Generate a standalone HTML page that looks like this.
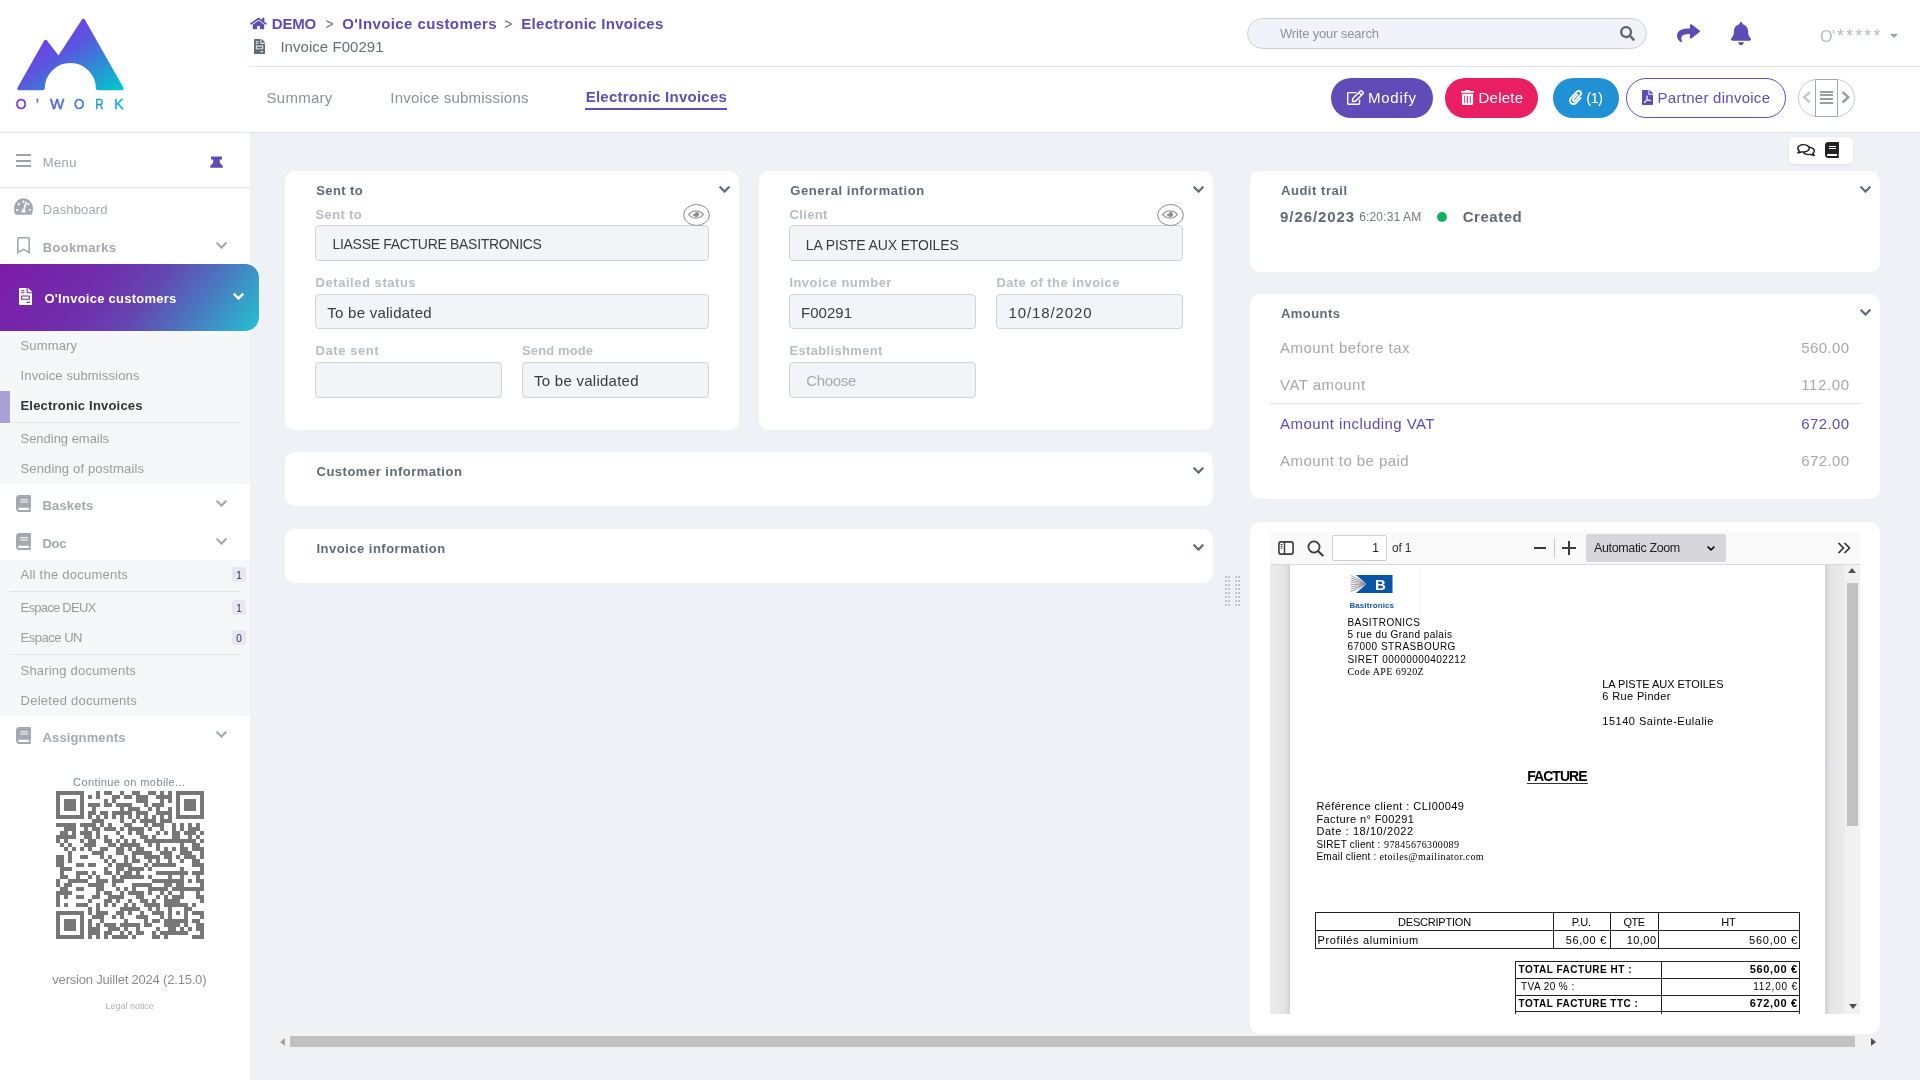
<!DOCTYPE html>
<html><head><meta charset="utf-8"><title>Electronic Invoices</title>
<style>
html,body{margin:0;padding:0;width:1920px;height:1080px;overflow:hidden;background:#fff;font-family:"Liberation Sans",sans-serif}
.a{position:absolute;display:block}
.t{position:absolute;white-space:nowrap}
</style></head><body>
<div id="root" style="position:absolute;left:0;top:0;width:1920px;height:1080px;will-change:transform">
<div class="a" style="left:250px;top:133px;width:1670px;height:947px;background:#eef1f6;"></div>
<div class="a" style="left:0px;top:0px;width:250px;height:1080px;background:#ffffff;"></div>
<svg class="a" style="left:0;top:0;width:140px;height:120px" viewBox="0 0 140 120">
<defs><linearGradient id="lg" x1="0" y1="0" x2="1" y2="1" gradientUnits="objectBoundingBox">
<stop offset="0" stop-color="#8d1ff6"/><stop offset="0.45" stop-color="#5a55de"/><stop offset="1" stop-color="#00c8cc"/></linearGradient>
<linearGradient id="lg2" x1="15" y1="0" x2="125" y2="0" gradientUnits="userSpaceOnUse">
<stop offset="0" stop-color="#7b2ee8"/><stop offset="0.5" stop-color="#3f78d6"/><stop offset="1" stop-color="#0ec0cf"/></linearGradient></defs>
<path d="M19 88.5 L45.6 41.5 L58.6 58.5 L83.4 20.5 L122 88.5 L97.7 88.5 A27.35 27.35 0 0 0 43 88.5 Z" fill="url(#lg)" stroke="url(#lg)" stroke-width="3.5" stroke-linejoin="round"/>
<g font-family="Liberation Sans" font-weight="400" font-size="14.2" fill="url(#lg2)" stroke="url(#lg2)" stroke-width="0.45">
<text x="15.8" y="109.3" textLength="10.8" lengthAdjust="spacingAndGlyphs">O</text>
<text x="36" y="109.3" textLength="2.9" lengthAdjust="spacingAndGlyphs">’</text>
<text x="49.9" y="109.3" textLength="14.3" lengthAdjust="spacingAndGlyphs">W</text>
<text x="73.9" y="109.3" textLength="10.4" lengthAdjust="spacingAndGlyphs">O</text>
<text x="95.3" y="109.3" textLength="8.4" lengthAdjust="spacingAndGlyphs">R</text>
<text x="114.1" y="109.3" textLength="9.7" lengthAdjust="spacingAndGlyphs">K</text>
</g></svg>
<div class="a" style="left:0px;top:132px;width:1920px;height:1px;background:#dfe3e8;"></div>
<div class="a" style="left:16px;top:154px;width:15px;height:2px;background:#9aa2ab;"></div>
<div class="a" style="left:16px;top:159.5px;width:15px;height:2px;background:#9aa2ab;"></div>
<div class="a" style="left:16px;top:165px;width:15px;height:2px;background:#9aa2ab;"></div>
<div id="t0" class="t" style="top:156px;font-size:13px;line-height:13px;color:#9ea4ab;font-weight:400;letter-spacing:0.423px;left:42.7px;">Menu</div>
<svg class="a" style="left:210px;top:156px;width:13px;height:12px" viewBox="0 0 13 12"><path d="M1 0.5h11v3h-2.2v3.2l3 3.3v1.8H0.2v-1.8l3-3.3V3.5H1z" fill="#5b4cb6"/></svg>
<div class="a" style="left:0px;top:187px;width:250px;height:1px;background:#dfe3e8;"></div>
<svg class="a" style="left:14px;top:197px;width:19px;height:19px;" viewBox="0 0 576 512" preserveAspectRatio="none"><path fill="#a2a9b0" d="M288 32C128.94 32 0 160.94 0 320c0 52.8 14.25 102.26 39.06 144.8 5.61 9.62 16.3 15.2 27.44 15.2h443c11.14 0 21.83-5.58 27.44-15.2C561.75 422.26 576 372.8 576 320c0-159.06-128.94-288-288-288zm0 64c14.71 0 26.58 10.13 30.32 23.65-1.11 2.26-2.64 4.23-3.45 6.67l-9.22 27.67c-5.13 3.49-10.97 6.01-17.64 6.01-17.67 0-32-14.33-32-32S270.33 96 288 96zM96 384c-17.67 0-32-14.33-32-32s14.33-32 32-32 32 14.33 32 32-14.33 32-32 32zm48-160c-17.67 0-32-14.33-32-32s14.33-32 32-32 32 14.33 32 32-14.33 32-32 32zm246.77-72.41l-61.33 184C343.13 347.33 352 364.54 352 384c0 11.72-3.38 22.55-8.88 32H232.88c-5.5-9.45-8.88-20.28-8.88-32 0-33.94 26.5-61.43 59.9-63.59l61.34-184.01c4.17-12.56 17.73-19.45 30.36-15.17 12.57 4.19 19.35 17.79 15.17 30.36zm14.66 57.2l15.52-46.55c3.47-1.29 7.13-2.23 11.05-2.23 17.67 0 32 14.33 32 32s-14.33 32-32 32c-11.38 0-20.89-6.27-26.57-15.22zM480 384c-17.67 0-32-14.33-32-32s14.33-32 32-32 32 14.33 32 32-14.33 32-32 32z"/></svg>
<div id="t1" class="t" style="top:203px;font-size:13px;line-height:13px;color:#a2a9b0;font-weight:400;letter-spacing:0.161px;left:42.7px;">Dashboard</div>
<svg class="a" style="left:17px;top:237px;width:13px;height:17px" viewBox="0 0 384 512" preserveAspectRatio="none"><path fill="#a2a9b0" d="M336 0H48C21.49 0 0 21.49 0 48v464l192-112 192 112V48c0-26.51-21.49-48-48-48zm0 428.43l-144-84-144 84V54a6 6 0 0 1 6-6h276c3.314 0 6 2.683 6 5.996V428.43z"/></svg>
<div id="t2" class="t" style="top:240.7px;font-size:13px;line-height:13px;color:#a2a9b0;font-weight:700;letter-spacing:0.311px;left:42.7px;">Bookmarks</div>
<svg class="a" style="left:216px;top:242px;width:11px;height:7px" viewBox="0 0 11 7"><polyline points="1.4000000000000001,1.4000000000000001 5.5,5.6000000000000005 9.6,1.4000000000000001" fill="none" stroke="#a2a9b0" stroke-width="2.2" stroke-linecap="square"/></svg>
<div class="a" style="left:0;top:264px;width:259px;height:67px;border-radius:0 14px 14px 0;background:linear-gradient(126deg,#7c1ba6 0%,#6f30ac 38%,#6445b1 55%,#4a78c0 75%,#22c3cf 100%)"></div>
<svg class="a" style="left:19px;top:288px;width:13px;height:17px" viewBox="0 0 384 512" preserveAspectRatio="none"><path fill="#ffffff" d="M288 256H96v64h192v-64zm89-151L279.1 7c-4.5-4.5-10.6-7-17-7H256v128h128v-6.1c0-6.3-2.5-12.4-7-16.9zm-153 31V0H24C10.7 0 0 10.7 0 24v464c0 13.3 10.7 24 24 24h336c13.3 0 24-10.7 24-24V160H248c-13.2 0-24-10.8-24-24zM64 72c0-4.42 3.58-8 8-8h80c4.42 0 8 3.58 8 8v16c0 4.42-3.58 8-8 8H72c-4.42 0-8-3.58-8-8V72zm0 64c0-4.42 3.58-8 8-8h80c4.42 0 8 3.58 8 8v16c0 4.42-3.58 8-8 8H72c-4.42 0-8-3.58-8-8v-16zm256 304c0 4.42-3.58 8-8 8h-80c-4.42 0-8-3.58-8-8v-16c0-4.42 3.58-8 8-8h80c4.42 0 8 3.58 8 8v16zm0-200v96c0 8.84-7.16 16-16 16H80c-8.84 0-16-7.16-16-16v-96c0-8.84 7.16-16 16-16h224c8.84 0 16 7.16 16 16z"/></svg>
<div id="t3" class="t" style="top:292px;font-size:13px;line-height:13px;color:#ffffff;font-weight:700;letter-spacing:0.252px;left:44.4px;">O'Invoice customers</div>
<svg class="a" style="left:233px;top:293px;width:11px;height:7px" viewBox="0 0 11 7"><polyline points="1.6,1.6 5.5,5.4 9.399999999999999,1.6" fill="none" stroke="#ffffff" stroke-width="2.6" stroke-linecap="square"/></svg>
<div class="a" style="left:0px;top:331px;width:250px;height:153px;background:#f6f7f9;"></div>
<div id="t4" class="t" style="top:339px;font-size:13px;line-height:13px;color:#9b9b9b;font-weight:400;letter-spacing:0.146px;left:20.5px;">Summary</div>
<div id="t5" class="t" style="top:369px;font-size:13px;line-height:13px;color:#9b9b9b;font-weight:400;letter-spacing:0.143px;left:20.5px;">Invoice submissions</div>
<div class="a" style="left:0px;top:391px;width:10px;height:32px;background:#a9a2d6;"></div>
<div id="t6" class="t" style="top:399px;font-size:13px;line-height:13px;color:#333333;font-weight:700;letter-spacing:0.194px;left:20.5px;">Electronic Invoices</div>
<div class="a" style="left:10px;top:422px;width:230px;height:1px;background:#e3e5e9;"></div>
<div id="t7" class="t" style="top:432px;font-size:13px;line-height:13px;color:#9b9b9b;font-weight:400;letter-spacing:-0.022px;left:20.5px;">Sending emails</div>
<div id="t8" class="t" style="top:462px;font-size:13px;line-height:13px;color:#9b9b9b;font-weight:400;letter-spacing:0.148px;left:20.5px;">Sending of postmails</div>
<svg class="a" style="left:16px;top:495px;width:15px;height:17px" viewBox="0 0 448 512" preserveAspectRatio="none"><path fill="#a2a9b0" d="M448 360V24c0-13.3-10.7-24-24-24H96C43 0 0 43 0 96v320c0 53 43 96 96 96h328c13.3 0 24-10.7 24-24v-16c0-7.5-3.5-14.3-8.9-18.7-4.2-15.4-4.2-59.3 0-74.7 5.4-4.3 8.9-11.1 8.9-18.6zM128 134c0-3.3 2.7-6 6-6h212c3.3 0 6 2.7 6 6v20c0 3.3-2.7 6-6 6H134c-3.3 0-6-2.7-6-6v-20zm0 64c0-3.3 2.7-6 6-6h212c3.3 0 6 2.7 6 6v20c0 3.3-2.7 6-6 6H134c-3.3 0-6-2.7-6-6v-20zm253.4 250H96c-17.7 0-32-14.3-32-32 0-17.6 14.4-32 32-32h285.4c-1.9 17.1-1.9 46.9 0 64z"/></svg>
<div id="t9" class="t" style="top:499px;font-size:13px;line-height:13px;color:#a2a9b0;font-weight:700;letter-spacing:0.138px;left:42.5px;">Baskets</div>
<svg class="a" style="left:216px;top:500px;width:11px;height:7px" viewBox="0 0 11 7"><polyline points="1.4000000000000001,1.4000000000000001 5.5,5.6000000000000005 9.6,1.4000000000000001" fill="none" stroke="#a2a9b0" stroke-width="2.2" stroke-linecap="square"/></svg>
<svg class="a" style="left:16px;top:532.5px;width:15px;height:17px" viewBox="0 0 448 512" preserveAspectRatio="none"><path fill="#a2a9b0" d="M448 360V24c0-13.3-10.7-24-24-24H96C43 0 0 43 0 96v320c0 53 43 96 96 96h328c13.3 0 24-10.7 24-24v-16c0-7.5-3.5-14.3-8.9-18.7-4.2-15.4-4.2-59.3 0-74.7 5.4-4.3 8.9-11.1 8.9-18.6zM128 134c0-3.3 2.7-6 6-6h212c3.3 0 6 2.7 6 6v20c0 3.3-2.7 6-6 6H134c-3.3 0-6-2.7-6-6v-20zm0 64c0-3.3 2.7-6 6-6h212c3.3 0 6 2.7 6 6v20c0 3.3-2.7 6-6 6H134c-3.3 0-6-2.7-6-6v-20zm253.4 250H96c-17.7 0-32-14.3-32-32 0-17.6 14.4-32 32-32h285.4c-1.9 17.1-1.9 46.9 0 64z"/></svg>
<div id="t10" class="t" style="top:537px;font-size:13px;line-height:13px;color:#a2a9b0;font-weight:700;letter-spacing:-0.281px;left:42.5px;">Doc</div>
<svg class="a" style="left:216px;top:538px;width:11px;height:7px" viewBox="0 0 11 7"><polyline points="1.4000000000000001,1.4000000000000001 5.5,5.6000000000000005 9.6,1.4000000000000001" fill="none" stroke="#a2a9b0" stroke-width="2.2" stroke-linecap="square"/></svg>
<div class="a" style="left:0px;top:560px;width:250px;height:156px;background:#f6f7f9;"></div>
<div id="t11" class="t" style="top:568px;font-size:13px;line-height:13px;color:#9b9b9b;font-weight:400;letter-spacing:0.247px;left:20.5px;">All the documents</div>
<div class="a" style="left:232px;top:567px;width:14px;height:15px;border-radius:3px;background:#e8e5f5"></div>
<div id="t12" class="t" style="top:571px;font-size:10px;line-height:10px;color:#333;font-weight:400;left:239px;transform:translateX(-50%);">1</div>
<div class="a" style="left:10px;top:591px;width:230px;height:1px;background:#e3e5e9;"></div>
<div id="t13" class="t" style="top:601px;font-size:13px;line-height:13px;color:#9b9b9b;font-weight:400;letter-spacing:-0.729px;left:20.5px;">Espace DEUX</div>
<div class="a" style="left:232px;top:600px;width:14px;height:15px;border-radius:3px;background:#e8e5f5"></div>
<div id="t14" class="t" style="top:604px;font-size:10px;line-height:10px;color:#333;font-weight:400;left:239px;transform:translateX(-50%);">1</div>
<div id="t15" class="t" style="top:631px;font-size:13px;line-height:13px;color:#9b9b9b;font-weight:400;letter-spacing:-0.469px;left:20.5px;">Espace UN</div>
<div class="a" style="left:232px;top:630px;width:14px;height:15px;border-radius:3px;background:#e8e5f5"></div>
<div id="t16" class="t" style="top:634px;font-size:10px;line-height:10px;color:#333;font-weight:400;left:239px;transform:translateX(-50%);">0</div>
<div class="a" style="left:10px;top:654px;width:230px;height:1px;background:#e3e5e9;"></div>
<div id="t17" class="t" style="top:664px;font-size:13px;line-height:13px;color:#9b9b9b;font-weight:400;letter-spacing:0.205px;left:20.5px;">Sharing documents</div>
<div id="t18" class="t" style="top:694px;font-size:13px;line-height:13px;color:#9b9b9b;font-weight:400;letter-spacing:0.268px;left:20.5px;">Deleted documents</div>
<svg class="a" style="left:16px;top:727px;width:15px;height:17px" viewBox="0 0 448 512" preserveAspectRatio="none"><path fill="#a2a9b0" d="M448 360V24c0-13.3-10.7-24-24-24H96C43 0 0 43 0 96v320c0 53 43 96 96 96h328c13.3 0 24-10.7 24-24v-16c0-7.5-3.5-14.3-8.9-18.7-4.2-15.4-4.2-59.3 0-74.7 5.4-4.3 8.9-11.1 8.9-18.6zM128 134c0-3.3 2.7-6 6-6h212c3.3 0 6 2.7 6 6v20c0 3.3-2.7 6-6 6H134c-3.3 0-6-2.7-6-6v-20zm0 64c0-3.3 2.7-6 6-6h212c3.3 0 6 2.7 6 6v20c0 3.3-2.7 6-6 6H134c-3.3 0-6-2.7-6-6v-20zm253.4 250H96c-17.7 0-32-14.3-32-32 0-17.6 14.4-32 32-32h285.4c-1.9 17.1-1.9 46.9 0 64z"/></svg>
<div id="t19" class="t" style="top:730.7px;font-size:13px;line-height:13px;color:#a2a9b0;font-weight:700;letter-spacing:0.136px;left:42.5px;">Assignments</div>
<svg class="a" style="left:216px;top:731px;width:11px;height:7px" viewBox="0 0 11 7"><polyline points="1.4000000000000001,1.4000000000000001 5.5,5.6000000000000005 9.6,1.4000000000000001" fill="none" stroke="#a2a9b0" stroke-width="2.2" stroke-linecap="square"/></svg>
<div id="t20" class="t" style="top:777px;font-size:11px;line-height:11px;color:#7b8794;font-weight:400;letter-spacing:0.402px;left:129.3px;transform:translateX(-50%);">Continue on mobile...</div>
<svg class="a" style="left:56px;top:791px;width:148px;height:148px" viewBox="0 0 37 37" shape-rendering="crispEdges"><path fill="#777777" d="M0 0h7v1h-7zM10 0h1v1h-1zM12 0h2v1h-2zM16 0h1v1h-1zM19 0h2v1h-2zM23 0h2v1h-2zM26 0h1v1h-1zM28 0h1v1h-1zM30 0h7v1h-7zM0 1h1v1h-1zM6 1h1v1h-1zM8 1h1v1h-1zM10 1h1v1h-1zM14 1h2v1h-2zM17 1h2v1h-2zM20 1h3v1h-3zM25 1h4v1h-4zM30 1h1v1h-1zM36 1h1v1h-1zM0 2h1v1h-1zM2 2h3v1h-3zM6 2h1v1h-1zM12 2h1v1h-1zM14 2h1v1h-1zM20 2h3v1h-3zM26 2h1v1h-1zM28 2h1v1h-1zM30 2h1v1h-1zM32 2h3v1h-3zM36 2h1v1h-1zM0 3h1v1h-1zM2 3h3v1h-3zM6 3h1v1h-1zM8 3h3v1h-3zM12 3h2v1h-2zM15 3h4v1h-4zM22 3h1v1h-1zM24 3h3v1h-3zM30 3h1v1h-1zM32 3h3v1h-3zM36 3h1v1h-1zM0 4h1v1h-1zM2 4h3v1h-3zM6 4h1v1h-1zM9 4h1v1h-1zM16 4h1v1h-1zM18 4h3v1h-3zM23 4h1v1h-1zM25 4h1v1h-1zM28 4h1v1h-1zM30 4h1v1h-1zM32 4h3v1h-3zM36 4h1v1h-1zM0 5h1v1h-1zM6 5h1v1h-1zM8 5h2v1h-2zM11 5h2v1h-2zM14 5h5v1h-5zM20 5h3v1h-3zM25 5h4v1h-4zM30 5h1v1h-1zM36 5h1v1h-1zM0 6h7v1h-7zM8 6h1v1h-1zM10 6h1v1h-1zM12 6h1v1h-1zM14 6h1v1h-1zM16 6h1v1h-1zM18 6h1v1h-1zM20 6h1v1h-1zM22 6h1v1h-1zM24 6h1v1h-1zM26 6h1v1h-1zM28 6h1v1h-1zM30 6h7v1h-7zM9 7h3v1h-3zM16 7h1v1h-1zM19 7h1v1h-1zM21 7h4v1h-4zM26 7h3v1h-3zM0 8h5v1h-5zM6 8h4v1h-4zM11 8h1v1h-1zM13 8h1v1h-1zM17 8h2v1h-2zM22 8h1v1h-1zM24 8h3v1h-3zM29 8h1v1h-1zM31 8h1v1h-1zM33 8h1v1h-1zM35 8h1v1h-1zM2 9h3v1h-3zM7 9h1v1h-1zM9 9h2v1h-2zM12 9h3v1h-3zM16 9h1v1h-1zM18 9h4v1h-4zM23 9h1v1h-1zM26 9h1v1h-1zM29 9h1v1h-1zM31 9h1v1h-1zM33 9h3v1h-3zM1 10h2v1h-2zM4 10h1v1h-1zM6 10h3v1h-3zM10 10h1v1h-1zM15 10h1v1h-1zM18 10h1v1h-1zM20 10h2v1h-2zM25 10h1v1h-1zM27 10h1v1h-1zM29 10h2v1h-2zM32 10h3v1h-3zM36 10h1v1h-1zM0 11h5v1h-5zM7 11h2v1h-2zM10 11h1v1h-1zM12 11h1v1h-1zM16 11h1v1h-1zM21 11h2v1h-2zM24 11h1v1h-1zM29 11h2v1h-2zM33 11h1v1h-1zM35 11h1v1h-1zM0 12h1v1h-1zM2 12h1v1h-1zM6 12h1v1h-1zM8 12h2v1h-2zM12 12h2v1h-2zM15 12h1v1h-1zM17 12h1v1h-1zM19 12h1v1h-1zM22 12h13v1h-13zM36 12h1v1h-1zM1 13h1v1h-1zM3 13h1v1h-1zM7 13h3v1h-3zM13 13h2v1h-2zM16 13h5v1h-5zM23 13h1v1h-1zM25 13h1v1h-1zM31 13h1v1h-1zM34 13h2v1h-2zM2 14h1v1h-1zM4 14h1v1h-1zM6 14h1v1h-1zM8 14h1v1h-1zM11 14h2v1h-2zM15 14h2v1h-2zM18 14h1v1h-1zM20 14h2v1h-2zM25 14h1v1h-1zM27 14h1v1h-1zM29 14h1v1h-1zM31 14h2v1h-2zM34 14h3v1h-3zM3 15h1v1h-1zM9 15h3v1h-3zM15 15h2v1h-2zM19 15h5v1h-5zM26 15h3v1h-3zM31 15h3v1h-3zM36 15h1v1h-1zM0 16h2v1h-2zM3 16h1v1h-1zM6 16h2v1h-2zM11 16h1v1h-1zM13 16h1v1h-1zM17 16h1v1h-1zM19 16h1v1h-1zM22 16h4v1h-4zM27 16h2v1h-2zM30 16h1v1h-1zM32 16h3v1h-3zM36 16h1v1h-1zM0 17h2v1h-2zM3 17h1v1h-1zM12 17h1v1h-1zM14 17h1v1h-1zM17 17h1v1h-1zM19 17h2v1h-2zM23 17h1v1h-1zM25 17h1v1h-1zM28 17h1v1h-1zM31 17h1v1h-1zM34 17h2v1h-2zM0 18h2v1h-2zM5 18h2v1h-2zM8 18h2v1h-2zM13 18h1v1h-1zM15 18h4v1h-4zM22 18h1v1h-1zM24 18h6v1h-6zM34 18h3v1h-3zM1 19h3v1h-3zM12 19h1v1h-1zM15 19h2v1h-2zM18 19h4v1h-4zM23 19h1v1h-1zM31 19h1v1h-1zM36 19h1v1h-1zM1 20h1v1h-1zM5 20h3v1h-3zM9 20h1v1h-1zM12 20h2v1h-2zM15 20h1v1h-1zM17 20h2v1h-2zM20 20h1v1h-1zM25 20h8v1h-8zM34 20h3v1h-3zM1 21h2v1h-2zM5 21h1v1h-1zM8 21h1v1h-1zM10 21h1v1h-1zM14 21h1v1h-1zM16 21h6v1h-6zM23 21h1v1h-1zM28 21h1v1h-1zM31 21h1v1h-1zM35 21h1v1h-1zM0 22h1v1h-1zM3 22h5v1h-5zM10 22h3v1h-3zM14 22h3v1h-3zM24 22h8v1h-8zM33 22h1v1h-1zM35 22h2v1h-2zM0 23h1v1h-1zM2 23h2v1h-2zM8 23h4v1h-4zM14 23h1v1h-1zM19 23h5v1h-5zM27 23h2v1h-2zM30 23h2v1h-2zM36 23h1v1h-1zM1 24h2v1h-2zM5 24h2v1h-2zM10 24h2v1h-2zM15 24h1v1h-1zM17 24h1v1h-1zM19 24h1v1h-1zM23 24h5v1h-5zM29 24h8v1h-8zM0 25h4v1h-4zM10 25h1v1h-1zM12 25h2v1h-2zM16 25h1v1h-1zM18 25h4v1h-4zM23 25h1v1h-1zM26 25h1v1h-1zM28 25h1v1h-1zM31 25h1v1h-1zM35 25h1v1h-1zM0 26h1v1h-1zM2 26h1v1h-1zM5 26h2v1h-2zM9 26h2v1h-2zM13 26h4v1h-4zM20 26h2v1h-2zM25 26h1v1h-1zM27 26h1v1h-1zM29 26h3v1h-3zM35 26h2v1h-2zM0 27h1v1h-1zM8 27h1v1h-1zM12 27h2v1h-2zM15 27h1v1h-1zM18 27h1v1h-1zM21 27h2v1h-2zM24 27h1v1h-1zM27 27h4v1h-4zM36 27h1v1h-1zM0 28h1v1h-1zM2 28h1v1h-1zM5 28h3v1h-3zM10 28h1v1h-1zM12 28h1v1h-1zM14 28h1v1h-1zM17 28h1v1h-1zM19 28h1v1h-1zM22 28h4v1h-4zM27 28h6v1h-6zM34 28h1v1h-1zM8 29h1v1h-1zM10 29h1v1h-1zM16 29h5v1h-5zM23 29h1v1h-1zM25 29h1v1h-1zM28 29h1v1h-1zM32 29h2v1h-2zM0 30h7v1h-7zM8 30h1v1h-1zM10 30h3v1h-3zM15 30h2v1h-2zM18 30h1v1h-1zM21 30h1v1h-1zM24 30h3v1h-3zM28 30h1v1h-1zM30 30h1v1h-1zM32 30h1v1h-1zM34 30h3v1h-3zM0 31h1v1h-1zM6 31h1v1h-1zM9 31h3v1h-3zM14 31h1v1h-1zM16 31h1v1h-1zM20 31h3v1h-3zM26 31h1v1h-1zM28 31h1v1h-1zM32 31h1v1h-1zM36 31h1v1h-1zM0 32h1v1h-1zM2 32h3v1h-3zM6 32h1v1h-1zM8 32h1v1h-1zM11 32h1v1h-1zM17 32h1v1h-1zM22 32h1v1h-1zM24 32h2v1h-2zM27 32h6v1h-6zM34 32h2v1h-2zM0 33h1v1h-1zM2 33h3v1h-3zM6 33h1v1h-1zM8 33h1v1h-1zM10 33h1v1h-1zM12 33h3v1h-3zM16 33h5v1h-5zM22 33h2v1h-2zM27 33h4v1h-4zM32 33h1v1h-1zM35 33h2v1h-2zM0 34h1v1h-1zM2 34h3v1h-3zM6 34h1v1h-1zM8 34h3v1h-3zM13 34h3v1h-3zM17 34h1v1h-1zM20 34h1v1h-1zM25 34h1v1h-1zM28 34h2v1h-2zM31 34h1v1h-1zM33 34h1v1h-1zM35 34h2v1h-2zM0 35h1v1h-1zM6 35h1v1h-1zM8 35h3v1h-3zM12 35h2v1h-2zM16 35h1v1h-1zM18 35h1v1h-1zM20 35h2v1h-2zM24 35h1v1h-1zM26 35h7v1h-7zM36 35h1v1h-1zM0 36h7v1h-7zM8 36h1v1h-1zM10 36h1v1h-1zM12 36h1v1h-1zM14 36h4v1h-4zM19 36h1v1h-1zM24 36h2v1h-2zM27 36h1v1h-1zM34 36h3v1h-3z"/></svg>
<div id="t21" class="t" style="top:973px;font-size:13px;line-height:13px;color:#8c8c8c;font-weight:400;letter-spacing:-0.197px;left:129.3px;transform:translateX(-50%);">version Juillet 2024 (2.15.0)</div>
<div id="t22" class="t" style="top:1002px;font-size:9px;line-height:9px;color:#b3b3b3;font-weight:400;letter-spacing:-0.022px;left:129.7px;transform:translateX(-50%);">Legal notice</div>
<svg class="a" style="left:250px;top:17px;width:17px;height:13px" viewBox="0 0 576 512" preserveAspectRatio="none"><path fill="#5b4cb6" d="M280.37 148.26L96 300.11V464a16 16 0 0 0 16 16l112.06-.29a16 16 0 0 0 15.92-16V368a16 16 0 0 1 16-16h64a16 16 0 0 1 16 16v95.64a16 16 0 0 0 16 16.05L464 480a16 16 0 0 0 16-16V300L295.67 148.26a12.19 12.19 0 0 0-15.3 0zM571.6 251.47L488 182.56V44.05a12 12 0 0 0-12-12h-56a12 12 0 0 0-12 12v72.61L318.47 43a48 48 0 0 0-61 0L4.34 251.47a12 12 0 0 0-1.6 16.9l25.5 31A12 12 0 0 0 45.15 301l235.22-193.74a12.19 12.19 0 0 1 15.3 0L530.9 301a12 12 0 0 0 16.9-1.6l25.5-31a12 12 0 0 0-1.7-16.93z"/></svg>
<div id="t23" class="t" style="top:16.2px;font-size:15px;line-height:15px;color:#5b4cb6;font-weight:700;letter-spacing:-0.200px;left:271.8px;">DEMO</div>
<div id="t24" class="t" style="top:17px;font-size:14px;line-height:14px;color:#5f6b77;font-weight:400;letter-spacing:-0.987px;left:325.5px;">&gt;</div>
<div id="t25" class="t" style="top:16.2px;font-size:15px;line-height:15px;color:#5b4cb6;font-weight:700;letter-spacing:0.403px;left:342.3px;">O'Invoice customers</div>
<div id="t26" class="t" style="top:17px;font-size:14px;line-height:14px;color:#5f6b77;font-weight:400;letter-spacing:-0.487px;left:504.3px;">&gt;</div>
<div id="t27" class="t" style="top:16.2px;font-size:15px;line-height:15px;color:#5b4cb6;font-weight:700;letter-spacing:0.293px;left:521.3px;">Electronic Invoices</div>
<svg class="a" style="left:254px;top:39px;width:11px;height:15px" viewBox="0 0 384 512" preserveAspectRatio="none"><path fill="#5f6b77" d="M288 256H96v64h192v-64zm89-151L279.1 7c-4.5-4.5-10.6-7-17-7H256v128h128v-6.1c0-6.3-2.5-12.4-7-16.9zm-153 31V0H24C10.7 0 0 10.7 0 24v464c0 13.3 10.7 24 24 24h336c13.3 0 24-10.7 24-24V160H248c-13.2 0-24-10.8-24-24zM64 72c0-4.42 3.58-8 8-8h80c4.42 0 8 3.58 8 8v16c0 4.42-3.58 8-8 8H72c-4.42 0-8-3.58-8-8V72zm0 64c0-4.42 3.58-8 8-8h80c4.42 0 8 3.58 8 8v16c0 4.42-3.58 8-8 8H72c-4.42 0-8-3.58-8-8v-16zm256 304c0 4.42-3.58 8-8 8h-80c-4.42 0-8-3.58-8-8v-16c0-4.42 3.58-8 8-8h80c4.42 0 8 3.58 8 8v16zm0-200v96c0 8.84-7.16 16-16 16H80c-8.84 0-16-7.16-16-16v-96c0-8.84 7.16-16 16-16h224c8.84 0 16 7.16 16 16z"/></svg>
<div id="t28" class="t" style="top:39.1px;font-size:15px;line-height:15px;color:#666e76;font-weight:400;letter-spacing:0.048px;left:280.4px;">Invoice F00291</div>
<div class="a" style="left:250px;top:66px;width:1670px;height:1px;background:#dfe3e8;"></div>
<div id="t29" class="t" style="top:90px;font-size:15px;line-height:15px;color:#8b9197;font-weight:400;letter-spacing:0.252px;left:266.6px;">Summary</div>
<div id="t30" class="t" style="top:90px;font-size:15px;line-height:15px;color:#8b9197;font-weight:400;letter-spacing:0.220px;left:390.3px;">Invoice submissions</div>
<div id="t31" class="t" style="top:89px;font-size:15px;line-height:15px;color:#5a52b6;font-weight:700;letter-spacing:0.248px;left:585.7px;">Electronic Invoices</div>
<div class="a" style="left:585px;top:108px;width:142px;height:2px;background:#5a52b6;"></div>
<div class="a" style="left:1247px;top:18px;width:398px;height:29px;border:1px solid #cdd1d7;border-radius:16px;background:#f1f2fa"></div>
<div id="t32" class="t" style="top:27px;font-size:13px;line-height:13px;color:#8d939a;font-weight:400;letter-spacing:-0.165px;left:1280px;">Write your search</div>
<svg class="a" style="left:1620px;top:26px;width:15px;height:15px" viewBox="0 0 512 512" preserveAspectRatio="none"><path fill="#5f6b77" d="M505 442.7L405.3 343c-4.5-4.5-10.6-7-17-7H372c27.6-35.3 44-79.7 44-128C416 93.1 322.9 0 208 0S0 93.1 0 208s93.1 208 208 208c48.3 0 92.7-16.4 128-44v16.3c0 6.4 2.5 12.5 7 17l99.7 99.7c9.4 9.4 24.6 9.4 33.9 0l28.3-28.3c9.4-9.4 9.4-24.6.1-34zM208 336c-70.7 0-128-57.2-128-128 0-70.7 57.2-128 128-128 70.7 0 128 57.2 128 128 0 70.7-57.2 128-128 128z"/></svg>
<svg class="a" style="left:1677px;top:23px;width:23px;height:20.5px" viewBox="0 0 512 512" preserveAspectRatio="none"><path fill="#5b4cb6" d="M503.691 189.836L327.687 37.851C312.281 24.546 288 35.347 288 56.015v80.053C127.371 137.907 0 170.1 0 322.326c0 61.441 39.581 122.309 83.333 154.132 13.653 9.931 33.111-2.533 28.077-18.631C66.066 312.814 132.917 274.316 288 272.085V360c0 20.7 24.3 31.453 39.687 18.164l176.004-152c11.071-9.562 11.086-26.753 0-36.328z"/></svg>
<svg class="a" style="left:1731px;top:22px;width:20px;height:23px" viewBox="0 0 448 512" preserveAspectRatio="none"><path fill="#5b4cb6" d="M224 512c35.32 0 63.97-28.65 63.97-64H160.03c0 35.35 28.65 64 63.97 64zm215.39-149.71c-19.32-20.76-55.47-51.99-55.47-154.29 0-77.7-54.48-139.9-127.94-155.16V32c0-17.67-14.32-32-31.98-32s-31.98 14.33-31.98 32v20.84C118.56 68.1 64.08 130.3 64.08 208c0 102.3-36.15 133.53-55.47 154.29-6 6.45-8.66 14.16-8.61 21.71.11 16.4 12.98 32 32.1 32h383.8c19.12 0 32-15.6 32.1-32 .05-7.55-2.61-15.27-8.61-21.71z"/></svg>
<div id="t33" class="t" style="top:28.700000000000003px;font-size:16px;line-height:16px;color:#b6bbc0;font-weight:400;letter-spacing:-0.500px;left:1820px;">O'</div>
<div id="t34" class="t" style="top:27.200000000000003px;font-size:18px;line-height:18px;color:#b6bbc0;font-weight:400;letter-spacing:2.117px;left:1837px;">*****</div>
<svg class="a" style="left:1890px;top:34px;width:8px;height:4px" viewBox="0 0 8 4"><path d="M0 0h8L4 4z" fill="#9aa1a8"/></svg>
<div class="a" style="left:1331px;top:78px;width:102px;height:40px;border-radius:20px;background:#5f4cb8"></div>
<svg class="a" style="left:1347px;top:90px;width:17px;height:15px" viewBox="0 0 576 512" preserveAspectRatio="none"><path fill="#ffffff" d="M402.3 344.9l32-32c5-5 13.7-1.5 13.7 5.7V464c0 26.5-21.5 48-48 48H48c-26.5 0-48-21.5-48-48V112c0-26.5 21.5-48 48-48h273.5c7.1 0 10.7 8.6 5.7 13.7l-32 32c-1.5 1.5-3.5 2.3-5.7 2.3H48v352h352V350.5c0-2.1.8-4.1 2.3-5.6zm156.6-201.8L296.3 405.7l-90.4 10c-26.2 2.9-48.5-19.2-45.6-45.6l10-90.4L432.9 17.1c22.9-22.9 59.9-22.9 82.7 0l43.2 43.2c22.9 22.9 22.9 60 .1 82.8zM460.1 174L402 115.9 216.2 301.8l-7.3 65.3 65.3-7.3L460.1 174zm64.8-79.7l-43.2-43.2c-4.1-4.1-10.8-4.1-14.8 0L436 82l58.1 58.1 30.9-30.9c4-4.2 4-10.8-.1-14.9z"/></svg>
<div id="t35" class="t" style="top:90px;font-size:15px;line-height:15px;color:#ffffff;font-weight:400;letter-spacing:0.762px;left:1368px;">Modify</div>
<div class="a" style="left:1445px;top:78px;width:93px;height:40px;border-radius:20px;background:#e91e63"></div>
<svg class="a" style="left:1461px;top:90px;width:13px;height:15px" viewBox="0 0 448 512" preserveAspectRatio="none"><path fill="#ffffff" d="M32 464a48 48 0 0 0 48 48h288a48 48 0 0 0 48-48V128H32zm272-256a16 16 0 0 1 32 0v224a16 16 0 0 1-32 0zm-96 0a16 16 0 0 1 32 0v224a16 16 0 0 1-32 0zm-96 0a16 16 0 0 1 32 0v224a16 16 0 0 1-32 0zM432 32H312l-9.4-18.7A24 24 0 0 0 281.1 0H166.8a23.72 23.72 0 0 0-21.4 13.3L136 32H16A16 16 0 0 0 0 48v32a16 16 0 0 0 16 16h416a16 16 0 0 0 16-16V48a16 16 0 0 0-16-16z"/></svg>
<div id="t36" class="t" style="top:90px;font-size:15px;line-height:15px;color:#ffffff;font-weight:400;letter-spacing:0.228px;left:1478.5px;">Delete</div>
<div class="a" style="left:1553px;top:78px;width:66px;height:40px;border-radius:20px;background:#2191d5"></div>
<svg class="a" style="left:1569px;top:90px;width:13px;height:15px" viewBox="0 0 448 512" preserveAspectRatio="none"><path fill="#ffffff" d="M43.246 466.142c-58.43-60.289-57.341-157.511 1.386-217.581L254.392 34c44.316-45.332 116.351-45.336 160.671 0 43.89 44.894 43.943 117.329 0 162.276L232.214 383.128c-29.855 30.537-78.633 30.111-107.982-.998-28.275-29.97-27.368-77.473 1.452-106.953l143.743-146.835c6.182-6.314 16.312-6.422 22.626-.241l22.861 22.379c6.315 6.182 6.422 16.312.241 22.626L171.427 319.927c-4.932 5.045-5.236 13.428-.648 18.292 4.372 4.634 11.245 4.711 15.688.165l182.849-186.851c19.613-20.062 19.613-52.725-.011-72.798-19.189-19.627-49.957-19.637-69.154 0L90.39 293.295c-34.763 35.56-35.299 93.12-1.191 128.313 34.01 35.093 88.985 35.137 123.058.286l172.06-175.999c6.177-6.319 16.307-6.433 22.626-.256l22.877 22.364c6.319 6.177 6.434 16.307.256 22.626l-172.06 175.998c-59.576 60.938-155.943 60.216-214.77-.485z"/></svg>
<div id="t37" class="t" style="top:90px;font-size:15px;line-height:15px;color:#ffffff;font-weight:400;letter-spacing:-0.822px;left:1586.3px;">(1)</div>
<div class="a" style="left:1626px;top:78px;width:158px;height:38px;border-radius:20px;border:1px solid #5f4cb8;background:#fff"></div>
<svg class="a" style="left:1642px;top:90px;width:11px;height:15px" viewBox="0 0 384 512" preserveAspectRatio="none"><path fill="#5f4cb8" d="M181.9 256.1c-5-16-4.9-46.9-2-46.9 8.4 0 7.6 36.9 2 46.9zm-1.7 47.2c-7.7 20.2-17.3 43.3-28.4 62.7 18.3-7 39-17.2 62.9-21.9-12.7-9.6-24.9-23.4-34.5-40.8zM86.1 428.1c0 .8 13.2-5.4 34.9-40.2-6.7 6.3-29.1 24.5-34.9 40.2zM248 160h136v328c0 13.3-10.7 24-24 24H24c-13.3 0-24-10.7-24-24V24C0 10.7 10.7 0 24 0h200v136c0 13.2 10.8 24 24 24zm-8 171.8c-20-12.2-33.3-29-42.7-53.8 4.5-18.5 11.6-46.6 6.2-64.2-4.7-29.4-42.4-26.5-47.8-6.8-5 18.3-.4 44.1 8.1 77-11.6 27.6-28.7 64.6-40.8 85.8-.1 0-.1.1-.2.1-27.1 13.9-73.6 44.5-54.5 68 5.6 6.9 16 10 21.5 10 17.9 0 35.7-18 61.1-61.8 25.8-8.5 54.1-19.1 79-23.2 21.7 11.8 47.1 19.5 64 19.5 29.2 0 31.2-32 19.7-43.4-13.9-13.6-54.3-9.7-73.6-7.2zM377 105L279 7c-4.5-4.5-10.6-7-17-7h-6v128h128v-6.1c0-6.3-2.5-12.4-7-16.9zm-74.1 255.3c4.1-2.7-2.5-11.9-42.8-9 37.1 15.8 42.8 9 42.8 9z"/></svg>
<div id="t38" class="t" style="top:90px;font-size:15px;line-height:15px;color:#5f4cb8;font-weight:400;letter-spacing:0.266px;left:1657.6px;">Partner dinvoice</div>
<div class="a" style="left:1798px;top:79px;width:55px;height:36px;border:1px solid #c9c9c9;border-radius:19px;background:#fff"></div>
<div class="a" style="left:1815px;top:80px;width:1px;height:36px;background:#a3a8ad;"></div>
<div class="a" style="left:1837px;top:80px;width:1px;height:36px;background:#a3a8ad;"></div>
<svg class="a" style="left:1800px;top:88px;width:14px;height:20px" viewBox="0 0 14 20"><polyline points="10,4 4.2,9.2 10,14.5" fill="none" stroke="#c6c8cb" stroke-width="2.4"/></svg>
<svg class="a" style="left:1839px;top:88px;width:14px;height:20px" viewBox="0 0 14 20"><polyline points="3.5,4 9.3,9.2 3.5,14.5" fill="none" stroke="#999ea4" stroke-width="2.4"/></svg>
<div class="a" style="left:1815px;top:79px;width:23px;height:1px;background:#a3a8ad;"></div>
<div class="a" style="left:1815px;top:116px;width:23px;height:1px;background:#a3a8ad;"></div>
<div class="a" style="left:1820px;top:91.1px;width:13px;height:1.8px;background:#999ea4;"></div>
<div class="a" style="left:1820px;top:94.3px;width:13px;height:1.8px;background:#999ea4;"></div>
<div class="a" style="left:1820px;top:98.2px;width:13px;height:1.8px;background:#999ea4;"></div>
<div class="a" style="left:1820px;top:102.2px;width:13px;height:1.8px;background:#999ea4;"></div>
<div class="a" style="left:1789px;top:137px;width:64px;height:27px;border-radius:5px;background:#fff;box-shadow:0 1px 3px rgba(0,0,0,0.06)"></div>
<svg class="a" style="left:1797px;top:143px;width:18px;height:14px" viewBox="0 0 576 512" preserveAspectRatio="none"><path fill="#222222" d="M532 386.2c27.5-27.1 44-61.1 44-98.2 0-80-76.5-146.1-176.2-157.9C368.3 72.5 294.3 32 208 32 93.1 32 0 103.6 0 192c0 37 16.5 71 44 98.2-15.3 30.7-37.3 54.5-37.7 54.9-6.3 6.7-8.1 16.5-4.4 25 3.6 8.5 12 14 21.2 14 53.5 0 96.7-20.2 125.2-38.8 9.2 2.1 18.7 3.7 28.4 4.9C208.1 407.6 281.8 448 368 448c20.8 0 40.8-2.4 59.8-6.8C456.3 459.7 499.4 480 553 480c9.2 0 17.5-5.5 21.2-14 3.6-8.5 1.9-18.3-4.4-25-.4-.3-22.5-24.1-37.8-54.8zm-392.8-92.3L122.1 305c-14.1 9.1-28.5 16.3-43.1 21.4 2.7-4.7 5.4-9.7 8-14.8l15.5-31.1L77.7 256C64.2 242.6 48 220.7 48 192c0-60.7 73.3-112 160-112s160 51.3 160 112-73.3 112-160 112c-16.7 0-33.4-1.9-49.6-5.6l-19.2-4.5zM498.3 352l-24.7 24.4 15.5 31.1c2.6 5.1 5.3 10.1 8 14.8-14.6-5.1-29-12.3-43.1-21.4l-17.1-11.1-19.9 4.6c-16.2 3.7-32.9 5.6-49.6 5.6-54 0-102.2-20.1-131.3-49.7C338 339.5 416 272.9 416 192c0-3.4-.4-6.7-.7-10C479.7 196.5 528 238.8 528 288c0 28.7-16.2 50.6-29.7 64z"/></svg>
<svg class="a" style="left:1825px;top:142px;width:14px;height:16px" viewBox="0 0 448 512" preserveAspectRatio="none"><path fill="#222222" d="M448 360V24c0-13.3-10.7-24-24-24H96C43 0 0 43 0 96v320c0 53 43 96 96 96h328c13.3 0 24-10.7 24-24v-16c0-7.5-3.5-14.3-8.9-18.7-4.2-15.4-4.2-59.3 0-74.7 5.4-4.3 8.9-11.1 8.9-18.6zM128 134c0-3.3 2.7-6 6-6h212c3.3 0 6 2.7 6 6v20c0 3.3-2.7 6-6 6H134c-3.3 0-6-2.7-6-6v-20zm0 64c0-3.3 2.7-6 6-6h212c3.3 0 6 2.7 6 6v20c0 3.3-2.7 6-6 6H134c-3.3 0-6-2.7-6-6v-20zm253.4 250H96c-17.7 0-32-14.3-32-32 0-17.6 14.4-32 32-32h285.4c-1.9 17.1-1.9 46.9 0 64z"/></svg>
<div class="a" style="left:285px;top:171px;width:454px;height:259px;border-radius:10px;background:#fff"></div>
<div id="t39" class="t" style="top:184px;font-size:13px;line-height:13px;color:#5f6b77;font-weight:700;letter-spacing:0.406px;left:316.3px;">Sent to</div>
<svg class="a" style="left:719px;top:186px;width:11px;height:7px" viewBox="0 0 11 7"><polyline points="1.4000000000000001,1.4000000000000001 5.5,5.6000000000000005 9.6,1.4000000000000001" fill="none" stroke="#5f6b77" stroke-width="2.2" stroke-linecap="square"/></svg>
<div id="t40" class="t" style="top:208px;font-size:13px;line-height:13px;color:#b7bdc2;font-weight:700;letter-spacing:0.323px;left:315.6px;">Sent to</div>
<div class="a" style="left:315px;top:225px;width:392px;height:34px;border:1px solid #cfd3d8;border-radius:4px;background:#f3f4f8"></div>
<svg class="a" style="left:682.5px;top:203.5px;width:27px;height:22px" viewBox="0 0 27 22"><ellipse cx="13.5" cy="11" rx="12.8" ry="10.5" fill="#fff" stroke="#8a8a8a" stroke-width="1"/></svg>
<svg class="a" style="left:688px;top:209.0px;width:16px;height:11px" viewBox="0 0 576 512" preserveAspectRatio="none"><path fill="#8f8f8f" d="M288 144a110.94 110.94 0 0 0-31.24 5 55.4 55.4 0 0 1 7.24 27 56 56 0 0 1-56 56 55.4 55.4 0 0 1-27-7.24A111.71 111.71 0 1 0 288 144zm284.52 97.4C518.29 135.59 410.93 64 288 64S57.68 135.64 3.48 241.41a32.35 32.35 0 0 0 0 29.19C57.71 376.41 165.07 448 288 448s230.32-71.64 284.52-177.41a32.35 32.35 0 0 0 0-29.19zM288 400c-98.65 0-189.09-55-237.93-144C98.91 167 189.34 112 288 112s189.09 55 237.93 144C477.1 345 386.66 400 288 400z"/></svg>
<div id="t41" class="t" style="top:237px;font-size:14px;line-height:14px;color:#3b3b3b;font-weight:400;letter-spacing:-0.306px;left:332.5px;">LIASSE FACTURE BASITRONICS</div>
<div id="t42" class="t" style="top:276.3px;font-size:13px;line-height:13px;color:#b7bdc2;font-weight:700;letter-spacing:0.537px;left:315.6px;">Detailed status</div>
<div class="a" style="left:315px;top:294px;width:392px;height:33px;border:1px solid #cfd3d8;border-radius:4px;background:#f3f4f8"></div>
<div id="t43" class="t" style="top:304.5px;font-size:15px;line-height:15px;color:#3b3b3b;font-weight:400;letter-spacing:0.250px;left:327.3px;">To be validated</div>
<div id="t44" class="t" style="top:344px;font-size:13px;line-height:13px;color:#b7bdc2;font-weight:700;letter-spacing:0.559px;left:315.6px;">Date sent</div>
<div class="a" style="left:315px;top:362px;width:185px;height:34px;border:1px solid #cfd3d8;border-radius:4px;background:#f3f4f8"></div>
<div id="t45" class="t" style="top:344px;font-size:13px;line-height:13px;color:#b7bdc2;font-weight:700;letter-spacing:0.115px;left:522px;">Send mode</div>
<div class="a" style="left:522px;top:362px;width:185px;height:34px;border:1px solid #cfd3d8;border-radius:4px;background:#f3f4f8"></div>
<div id="t46" class="t" style="top:373.4px;font-size:15px;line-height:15px;color:#3b3b3b;font-weight:400;letter-spacing:0.250px;left:534.1px;">To be validated</div>
<div class="a" style="left:759px;top:171px;width:454px;height:259px;border-radius:10px;background:#fff"></div>
<div id="t47" class="t" style="top:184px;font-size:13px;line-height:13px;color:#5f6b77;font-weight:700;letter-spacing:0.582px;left:790.2px;">General information</div>
<svg class="a" style="left:1193px;top:186px;width:11px;height:7px" viewBox="0 0 11 7"><polyline points="1.4000000000000001,1.4000000000000001 5.5,5.6000000000000005 9.6,1.4000000000000001" fill="none" stroke="#5f6b77" stroke-width="2.2" stroke-linecap="square"/></svg>
<div id="t48" class="t" style="top:208px;font-size:13px;line-height:13px;color:#b7bdc2;font-weight:700;letter-spacing:0.375px;left:789.4px;">Client</div>
<div class="a" style="left:789px;top:225px;width:392px;height:34px;border:1px solid #cfd3d8;border-radius:4px;background:#f3f4f8"></div>
<svg class="a" style="left:1156.5px;top:203.5px;width:27px;height:22px" viewBox="0 0 27 22"><ellipse cx="13.5" cy="11" rx="12.8" ry="10.5" fill="#fff" stroke="#8a8a8a" stroke-width="1"/></svg>
<svg class="a" style="left:1162px;top:209.0px;width:16px;height:11px" viewBox="0 0 576 512" preserveAspectRatio="none"><path fill="#8f8f8f" d="M288 144a110.94 110.94 0 0 0-31.24 5 55.4 55.4 0 0 1 7.24 27 56 56 0 0 1-56 56 55.4 55.4 0 0 1-27-7.24A111.71 111.71 0 1 0 288 144zm284.52 97.4C518.29 135.59 410.93 64 288 64S57.68 135.64 3.48 241.41a32.35 32.35 0 0 0 0 29.19C57.71 376.41 165.07 448 288 448s230.32-71.64 284.52-177.41a32.35 32.35 0 0 0 0-29.19zM288 400c-98.65 0-189.09-55-237.93-144C98.91 167 189.34 112 288 112s189.09 55 237.93 144C477.1 345 386.66 400 288 400z"/></svg>
<div id="t49" class="t" style="top:237.5px;font-size:14px;line-height:14px;color:#3b3b3b;font-weight:400;letter-spacing:-0.125px;left:805.8px;">LA PISTE AUX ETOILES</div>
<div id="t50" class="t" style="top:276px;font-size:13px;line-height:13px;color:#b7bdc2;font-weight:700;letter-spacing:0.456px;left:789.4px;">Invoice number</div>
<div class="a" style="left:789px;top:294px;width:185px;height:33px;border:1px solid #cfd3d8;border-radius:4px;background:#f3f4f8"></div>
<div id="t51" class="t" style="top:304.7px;font-size:15px;line-height:15px;color:#3b3b3b;font-weight:400;letter-spacing:0.025px;left:801px;">F00291</div>
<div id="t52" class="t" style="top:276px;font-size:13px;line-height:13px;color:#b7bdc2;font-weight:700;letter-spacing:0.412px;left:996.4px;">Date of the invoice</div>
<div class="a" style="left:996px;top:294px;width:185px;height:33px;border:1px solid #cfd3d8;border-radius:4px;background:#f3f4f8"></div>
<div id="t53" class="t" style="top:304.7px;font-size:15px;line-height:15px;color:#3b3b3b;font-weight:400;letter-spacing:0.880px;left:1008.6px;">10/18/2020</div>
<div id="t54" class="t" style="top:344.3px;font-size:13px;line-height:13px;color:#b7bdc2;font-weight:700;letter-spacing:0.345px;left:789.4px;">Establishment</div>
<div class="a" style="left:789px;top:362px;width:185px;height:34px;border:1px solid #cfd3d8;border-radius:4px;background:#f3f4f8"></div>
<div id="t55" class="t" style="top:373.1px;font-size:15px;line-height:15px;color:#a6abb0;font-weight:400;letter-spacing:-0.341px;left:806.3px;">Choose</div>
<div class="a" style="left:285px;top:452px;width:928px;height:54px;border-radius:10px;background:#fff"></div>
<div id="t56" class="t" style="top:465.3px;font-size:13px;line-height:13px;color:#5f6b77;font-weight:700;letter-spacing:0.505px;left:316.5px;">Customer information</div>
<svg class="a" style="left:1193px;top:467px;width:11px;height:7px" viewBox="0 0 11 7"><polyline points="1.4000000000000001,1.4000000000000001 5.5,5.6000000000000005 9.6,1.4000000000000001" fill="none" stroke="#5f6b77" stroke-width="2.2" stroke-linecap="square"/></svg>
<div class="a" style="left:285px;top:529px;width:928px;height:54px;border-radius:10px;background:#fff"></div>
<div id="t57" class="t" style="top:542px;font-size:13px;line-height:13px;color:#5f6b77;font-weight:700;letter-spacing:0.489px;left:316.5px;">Invoice information</div>
<svg class="a" style="left:1193px;top:544px;width:11px;height:7px" viewBox="0 0 11 7"><polyline points="1.4000000000000001,1.4000000000000001 5.5,5.6000000000000005 9.6,1.4000000000000001" fill="none" stroke="#5f6b77" stroke-width="2.2" stroke-linecap="square"/></svg>
<div class="a" style="left:1225px;top:576px;width:2px;height:2px;background:#c4c4c4;"></div>
<div class="a" style="left:1228px;top:576px;width:2px;height:2px;background:#c4c4c4;"></div>
<div class="a" style="left:1235px;top:576px;width:2px;height:2px;background:#c4c4c4;"></div>
<div class="a" style="left:1238px;top:576px;width:2px;height:2px;background:#c4c4c4;"></div>
<div class="a" style="left:1225px;top:580px;width:2px;height:2px;background:#c4c4c4;"></div>
<div class="a" style="left:1228px;top:580px;width:2px;height:2px;background:#c4c4c4;"></div>
<div class="a" style="left:1235px;top:580px;width:2px;height:2px;background:#c4c4c4;"></div>
<div class="a" style="left:1238px;top:580px;width:2px;height:2px;background:#c4c4c4;"></div>
<div class="a" style="left:1225px;top:584px;width:2px;height:2px;background:#c4c4c4;"></div>
<div class="a" style="left:1228px;top:584px;width:2px;height:2px;background:#c4c4c4;"></div>
<div class="a" style="left:1235px;top:584px;width:2px;height:2px;background:#c4c4c4;"></div>
<div class="a" style="left:1238px;top:584px;width:2px;height:2px;background:#c4c4c4;"></div>
<div class="a" style="left:1225px;top:588px;width:2px;height:2px;background:#c4c4c4;"></div>
<div class="a" style="left:1228px;top:588px;width:2px;height:2px;background:#c4c4c4;"></div>
<div class="a" style="left:1235px;top:588px;width:2px;height:2px;background:#c4c4c4;"></div>
<div class="a" style="left:1238px;top:588px;width:2px;height:2px;background:#c4c4c4;"></div>
<div class="a" style="left:1225px;top:592px;width:2px;height:2px;background:#c4c4c4;"></div>
<div class="a" style="left:1228px;top:592px;width:2px;height:2px;background:#c4c4c4;"></div>
<div class="a" style="left:1235px;top:592px;width:2px;height:2px;background:#c4c4c4;"></div>
<div class="a" style="left:1238px;top:592px;width:2px;height:2px;background:#c4c4c4;"></div>
<div class="a" style="left:1225px;top:596px;width:2px;height:2px;background:#c4c4c4;"></div>
<div class="a" style="left:1228px;top:596px;width:2px;height:2px;background:#c4c4c4;"></div>
<div class="a" style="left:1235px;top:596px;width:2px;height:2px;background:#c4c4c4;"></div>
<div class="a" style="left:1238px;top:596px;width:2px;height:2px;background:#c4c4c4;"></div>
<div class="a" style="left:1225px;top:600px;width:2px;height:2px;background:#c4c4c4;"></div>
<div class="a" style="left:1228px;top:600px;width:2px;height:2px;background:#c4c4c4;"></div>
<div class="a" style="left:1235px;top:600px;width:2px;height:2px;background:#c4c4c4;"></div>
<div class="a" style="left:1238px;top:600px;width:2px;height:2px;background:#c4c4c4;"></div>
<div class="a" style="left:1225px;top:604px;width:2px;height:2px;background:#c4c4c4;"></div>
<div class="a" style="left:1228px;top:604px;width:2px;height:2px;background:#c4c4c4;"></div>
<div class="a" style="left:1235px;top:604px;width:2px;height:2px;background:#c4c4c4;"></div>
<div class="a" style="left:1238px;top:604px;width:2px;height:2px;background:#c4c4c4;"></div>
<div class="a" style="left:1250px;top:171px;width:630px;height:101px;border-radius:10px;background:#fff"></div>
<div id="t58" class="t" style="top:184px;font-size:13px;line-height:13px;color:#5f6b77;font-weight:700;letter-spacing:0.533px;left:1281px;">Audit trail</div>
<svg class="a" style="left:1860px;top:186px;width:11px;height:7px" viewBox="0 0 11 7"><polyline points="1.4000000000000001,1.4000000000000001 5.5,5.6000000000000005 9.6,1.4000000000000001" fill="none" stroke="#5f6b77" stroke-width="2.2" stroke-linecap="square"/></svg>
<div id="t59" class="t" style="top:208.8px;font-size:15px;line-height:15px;color:#5f6a74;font-weight:700;letter-spacing:0.908px;left:1280.1px;">9/26/2023</div>
<div id="t60" class="t" style="top:211px;font-size:12px;line-height:12px;color:#6f7780;font-weight:400;letter-spacing:0.131px;left:1359.3px;">6:20:31 AM</div>
<div class="a" style="left:1437px;top:212px;width:10px;height:10px;border-radius:50%;background:#10b35a"></div>
<div id="t61" class="t" style="top:208.8px;font-size:15px;line-height:15px;color:#5f6a74;font-weight:700;letter-spacing:0.523px;left:1462.7px;">Created</div>
<div class="a" style="left:1250px;top:294px;width:630px;height:205px;border-radius:10px;background:#fff"></div>
<div id="t62" class="t" style="top:307px;font-size:13px;line-height:13px;color:#5f6b77;font-weight:700;letter-spacing:0.443px;left:1281px;">Amounts</div>
<svg class="a" style="left:1860px;top:309px;width:11px;height:7px" viewBox="0 0 11 7"><polyline points="1.4000000000000001,1.4000000000000001 5.5,5.6000000000000005 9.6,1.4000000000000001" fill="none" stroke="#5f6b77" stroke-width="2.2" stroke-linecap="square"/></svg>
<div id="t63" class="t" style="top:340px;font-size:15px;line-height:15px;color:#a8a8a8;font-weight:400;letter-spacing:0.426px;left:1280.1px;">Amount before tax</div>
<div id="t64" class="t" style="top:340px;font-size:15px;line-height:15px;color:#a8a8a8;font-weight:400;letter-spacing:0.362px;right:70.64px;">560.00</div>
<div id="t65" class="t" style="top:377px;font-size:15px;line-height:15px;color:#a8a8a8;font-weight:400;letter-spacing:0.458px;left:1280.1px;">VAT amount</div>
<div id="t66" class="t" style="top:377px;font-size:15px;line-height:15px;color:#a8a8a8;font-weight:400;letter-spacing:0.587px;right:70.41px;">112.00</div>
<div class="a" style="left:1270px;top:403px;width:590px;height:1px;background:#dfe3e8;"></div>
<div id="t67" class="t" style="top:416px;font-size:15px;line-height:15px;color:#5b4cb6;font-weight:400;letter-spacing:0.432px;left:1280.1px;">Amount including VAT</div>
<div id="t68" class="t" style="top:416px;font-size:15px;line-height:15px;color:#5b4cb6;font-weight:400;letter-spacing:0.362px;right:70.64px;">672.00</div>
<div id="t69" class="t" style="top:453px;font-size:15px;line-height:15px;color:#a8a8a8;font-weight:400;letter-spacing:0.415px;left:1280.1px;">Amount to be paid</div>
<div id="t70" class="t" style="top:453px;font-size:15px;line-height:15px;color:#a8a8a8;font-weight:400;letter-spacing:0.362px;right:70.64px;">672.00</div>
<div class="a" style="left:1250px;top:522px;width:630px;height:512px;border-radius:10px;background:#fff"></div>
<div class="a" style="left:1270px;top:532px;width:590px;height:32px;background:#f9f9fa;"></div>
<div class="a" style="left:1270px;top:564px;width:590px;height:1px;background:#d9d9dc;"></div>
<svg class="a" style="left:1278px;top:541px;width:16px;height:14px" viewBox="0 0 16 14"><rect x="0.9" y="0.9" width="14.2" height="12.2" rx="2.2" fill="none" stroke="#3a3a3a" stroke-width="1.6"/><line x1="6.5" y1="1" x2="6.5" y2="13" stroke="#3a3a3a" stroke-width="1.4"/><line x1="2.6" y1="3.5" x2="4.6" y2="3.5" stroke="#3a3a3a" stroke-width="0.9"/><line x1="2.6" y1="5.3" x2="4.6" y2="5.3" stroke="#3a3a3a" stroke-width="0.9"/><line x1="2.6" y1="7.1" x2="4.6" y2="7.1" stroke="#3a3a3a" stroke-width="0.9"/></svg>
<svg class="a" style="left:1307px;top:540px;width:18px;height:17px" viewBox="0 0 18 17"><circle cx="7" cy="7" r="5.6" fill="none" stroke="#3a3a3a" stroke-width="1.7"/><line x1="11" y1="11" x2="16.3" y2="16" stroke="#3a3a3a" stroke-width="2"/></svg>
<div class="a" style="left:1332px;top:535px;width:53px;height:24px;border:1px solid #cfcfd3;border-radius:2px;background:#fff"></div>
<div id="t71" class="t" style="top:542px;font-size:12px;line-height:12px;color:#222;font-weight:400;right:541.00px;">1</div>
<div id="t72" class="t" style="top:542px;font-size:12px;line-height:12px;color:#333;font-weight:400;letter-spacing:-0.172px;left:1392px;">of 1</div>
<div class="a" style="left:1534px;top:547px;width:12px;height:1.8px;background:#3a3a3a;"></div>
<div class="a" style="left:1554px;top:538px;width:1px;height:20px;background:#c8c8cc;"></div>
<div class="a" style="left:1562px;top:547px;width:14px;height:1.8px;background:#3a3a3a;"></div>
<div class="a" style="left:1568.1px;top:541px;width:1.8px;height:14px;background:#3a3a3a;"></div>
<div class="a" style="left:1586px;top:534px;width:140px;height:28px;border-radius:2px;background:#d7d7db"></div>
<div id="t73" class="t" style="top:542px;font-size:12.5px;line-height:12.5px;color:#222;font-weight:400;letter-spacing:-0.363px;left:1594px;">Automatic Zoom</div>
<svg class="a" style="left:1707px;top:546px;width:8px;height:5px" viewBox="0 0 8 5"><polyline points="1.2,1.2 4.0,3.8 6.8,1.2" fill="none" stroke="#111" stroke-width="1.8" stroke-linecap="square"/></svg>
<svg class="a" style="left:1837px;top:542px;width:15px;height:12px" viewBox="0 0 15 12"><polyline points="1.5,1 6.5,6 1.5,11" fill="none" stroke="#333" stroke-width="1.7"/><polyline points="7.5,1 12.5,6 7.5,11" fill="none" stroke="#333" stroke-width="1.7"/></svg>
<div class="a" style="left:1270px;top:565px;width:575px;height:449px;background:#e9e9ec"></div>
<div class="a" style="left:1270px;top:565px;width:20px;height:449px;background:linear-gradient(90deg,#ececee 0%,#e4e4e7 75%,#d2d2d6 100%)"></div>
<div class="a" style="left:1825px;top:565px;width:20px;height:449px;background:linear-gradient(90deg,#d2d2d6 0%,#e4e4e7 25%,#ececee 100%)"></div>
<div class="a" style="left:1290px;top:565px;width:535px;height:449px;background:#ffffff;"></div>
<div class="a" style="left:1845px;top:565px;width:15px;height:449px;background:#f1f1f1;"></div>
<div class="a" style="left:1847px;top:583px;width:11px;height:243px;background:#c1c1c1;"></div>
<svg class="a" style="left:1848px;top:568px;width:8px;height:5px" viewBox="0 0 8 5"><path d="M0 5h8L4 0z" fill="#505050"/></svg>
<svg class="a" style="left:1849px;top:1003.5px;width:8px;height:5px" viewBox="0 0 8 5"><path d="M0 0h8L4 5z" fill="#505050"/></svg>
<svg class="a" style="left:1350px;top:574px;width:44px;height:20px" viewBox="0 0 44 20"><rect x="4.5" y="1" width="38" height="18" fill="#0a55a6"/><path d="M0.5 1h5.5l10.5 9-10.5 9H0.5z" fill="#fff"/><path d="M0.8 1.5 Q 8 4.475 16 10" fill="none" stroke="#8a8a8a" stroke-width="0.8"/><path d="M0.8 3.8 Q 8 5.97 16 10" fill="none" stroke="#8a8a8a" stroke-width="0.8"/><path d="M0.8 6.1 Q 8 7.465 16 10" fill="none" stroke="#8a8a8a" stroke-width="0.8"/><path d="M0.8 8.399999999999999 Q 8 8.959999999999999 16 10" fill="none" stroke="#8a8a8a" stroke-width="0.8"/><path d="M0.8 10.7 Q 8 10.455 16 10" fill="none" stroke="#8a8a8a" stroke-width="0.8"/><path d="M0.8 13.0 Q 8 11.95 16 10" fill="none" stroke="#8a8a8a" stroke-width="0.8"/><path d="M0.8 15.299999999999999 Q 8 13.445 16 10" fill="none" stroke="#8a8a8a" stroke-width="0.8"/><path d="M0.8 17.599999999999998 Q 8 14.939999999999998 16 10" fill="none" stroke="#8a8a8a" stroke-width="0.8"/><text x="25" y="16.2" font-family="Liberation Sans" font-weight="700" font-size="15" fill="#fff">B</text></svg>
<div id="t74" class="t" style="top:601.8px;font-size:8px;line-height:8px;color:#1c5aa8;font-weight:700;letter-spacing:0.102px;left:1349.4px;">Basitronics</div>
<div class="a" style="left:1420px;top:567px;width:1px;height:52px;background:#f4f4f4;"></div>
<div id="t75" class="t" style="top:618px;font-size:10px;line-height:10px;color:#000;font-weight:400;letter-spacing:0.480px;left:1347.4px;">BASITRONICS</div>
<div id="t76" class="t" style="top:630px;font-size:10px;line-height:10px;color:#000;font-weight:400;letter-spacing:0.416px;left:1347.4px;">5 rue du Grand palais</div>
<div id="t77" class="t" style="top:642px;font-size:10px;line-height:10px;color:#000;font-weight:400;letter-spacing:0.493px;left:1347.4px;">67000 STRASBOURG</div>
<div id="t78" class="t" style="top:655px;font-size:10px;line-height:10px;color:#000;font-weight:400;letter-spacing:0.451px;left:1347.4px;">SIRET 00000000402212</div>
<div id="t79" class="t" style="top:667px;font-size:10px;line-height:10px;color:#000;font-weight:400;font-family:'Liberation Serif',serif;letter-spacing:0.441px;left:1347.4px;">Code APE 6920Z</div>
<div id="t80" class="t" style="top:679px;font-size:11px;line-height:11px;color:#000;font-weight:400;letter-spacing:-0.046px;left:1602.3px;">LA PISTE AUX ETOILES</div>
<div id="t81" class="t" style="top:691px;font-size:11px;line-height:11px;color:#000;font-weight:400;letter-spacing:0.362px;left:1602.3px;">6 Rue Pinder</div>
<div id="t82" class="t" style="top:716px;font-size:11px;line-height:11px;color:#000;font-weight:400;letter-spacing:0.504px;left:1602.3px;">15140 Sainte-Eulalie</div>
<div id="t83" class="t" style="top:769px;font-size:14px;line-height:14px;color:#000;font-weight:700;letter-spacing:-0.987px;left:1527.3px;">FACTURE</div>
<div class="a" style="left:1527px;top:782.5px;width:61px;height:1.3px;background:#333;"></div>
<div id="t84" class="t" style="top:801px;font-size:11px;line-height:11px;color:#000;font-weight:400;letter-spacing:0.432px;left:1316.4px;">Référence client : CLI00049</div>
<div id="t85" class="t" style="top:814px;font-size:11px;line-height:11px;color:#000;font-weight:400;letter-spacing:0.398px;left:1316.4px;">Facture n° F00291</div>
<div id="t86" class="t" style="top:826px;font-size:11px;line-height:11px;color:#000;font-weight:400;letter-spacing:0.583px;left:1316.4px;">Date : 18/10/2022</div>
<div id="t87" class="t" style="top:839.5px;font-size:10px;line-height:10px;color:#000;font-weight:400;letter-spacing:0.234px;left:1316.4px;">SIRET client :</div>
<div id="t88" class="t" style="top:839.5px;font-size:10px;line-height:10px;color:#000;font-weight:400;font-family:'Liberation Serif',serif;letter-spacing:0.385px;left:1384px;">97845676300089</div>
<div id="t89" class="t" style="top:851.5px;font-size:10px;line-height:10px;color:#000;font-weight:400;letter-spacing:0.255px;left:1316.4px;">Email client :</div>
<div id="t90" class="t" style="top:851.5px;font-size:10px;line-height:10px;color:#000;font-weight:400;font-family:'Liberation Serif',serif;letter-spacing:0.411px;left:1379.4px;">etoiles@mailinator.com</div>
<div class="a" style="left:1315px;top:912px;width:485px;height:37px;border:1.3px solid #222;box-sizing:border-box"></div>
<div class="a" style="left:1315px;top:930px;width:485px;height:1.2px;background:#222;"></div>
<div class="a" style="left:1553px;top:912px;width:1.2px;height:37px;background:#222;"></div>
<div class="a" style="left:1609.5px;top:912px;width:1.2px;height:37px;background:#222;"></div>
<div class="a" style="left:1658px;top:912px;width:1.2px;height:37px;background:#222;"></div>
<div id="t91" class="t" style="top:917.3px;font-size:11px;line-height:11px;color:#000;font-weight:400;letter-spacing:-0.219px;left:1434.5px;transform:translateX(-50%);">DESCRIPTION</div>
<div id="t92" class="t" style="top:917.3px;font-size:11px;line-height:11px;color:#000;font-weight:400;letter-spacing:-0.161px;left:1581.3px;transform:translateX(-50%);">P.U.</div>
<div id="t93" class="t" style="top:917.3px;font-size:11px;line-height:11px;color:#000;font-weight:400;letter-spacing:-0.463px;left:1634px;transform:translateX(-50%);">QTE</div>
<div id="t94" class="t" style="top:917.3px;font-size:11px;line-height:11px;color:#000;font-weight:400;letter-spacing:-0.072px;left:1728.5px;transform:translateX(-50%);">HT</div>
<div id="t95" class="t" style="top:935px;font-size:11px;line-height:11px;color:#000;font-weight:400;letter-spacing:0.631px;left:1317.5px;">Profilés aluminium</div>
<div id="t96" class="t" style="top:935px;font-size:11px;line-height:11px;color:#000;font-weight:400;letter-spacing:0.583px;right:313.42px;">56,00 €</div>
<div id="t97" class="t" style="top:935px;font-size:11px;line-height:11px;color:#000;font-weight:400;letter-spacing:0.442px;right:263.56px;">10,00</div>
<div id="t98" class="t" style="top:935px;font-size:11px;line-height:11px;color:#000;font-weight:400;letter-spacing:0.725px;right:122.28px;">560,00 €</div>
<div class="a" style="left:1515px;top:961px;width:285px;height:60px;border:1.3px solid #222;box-sizing:border-box;border-bottom:none"></div>
<div class="a" style="left:1515px;top:978px;width:285px;height:1.2px;background:#222;"></div>
<div class="a" style="left:1515px;top:995px;width:285px;height:1.2px;background:#222;"></div>
<div class="a" style="left:1515px;top:1011px;width:285px;height:1.2px;background:#222;"></div>
<div class="a" style="left:1661px;top:961px;width:1.2px;height:60px;background:#222;"></div>
<div id="t99" class="t" style="top:965px;font-size:10px;line-height:10px;color:#000;font-weight:700;letter-spacing:0.503px;left:1518.5px;">TOTAL FACTURE HT :</div>
<div id="t100" class="t" style="top:964px;font-size:11px;line-height:11px;color:#000;font-weight:700;letter-spacing:0.639px;right:122.36px;">560,00 €</div>
<div id="t101" class="t" style="top:982px;font-size:10px;line-height:10px;color:#000;font-weight:400;letter-spacing:0.434px;left:1521px;">TVA 20 % :</div>
<div id="t102" class="t" style="top:982px;font-size:10px;line-height:10px;color:#000;font-weight:400;letter-spacing:0.802px;right:122.20px;">112,00 €</div>
<div id="t103" class="t" style="top:999px;font-size:10px;line-height:10px;color:#000;font-weight:700;letter-spacing:0.486px;left:1518.5px;">TOTAL FACTURE TTC :</div>
<div id="t104" class="t" style="top:998px;font-size:11px;line-height:11px;color:#000;font-weight:700;letter-spacing:0.639px;right:122.36px;">672,00 €</div>
<div class="a" style="left:1270px;top:1014px;width:590px;height:20px;background:#ffffff;"></div>
<div class="a" style="left:275px;top:1034px;width:1605px;height:15px;background:#f1f1f1;"></div>
<div class="a" style="left:290px;top:1036px;width:1565px;height:11px;background:#c1c1c1;"></div>
<svg class="a" style="left:279.5px;top:1038px;width:5px;height:8px" viewBox="0 0 5 8"><path d="M5 0v8L0 4z" fill="#a3a3a3"/></svg>
<svg class="a" style="left:1870.5px;top:1038px;width:5px;height:8px" viewBox="0 0 5 8"><path d="M0 0v8L5 4z" fill="#505050"/></svg>
</div></body></html>
